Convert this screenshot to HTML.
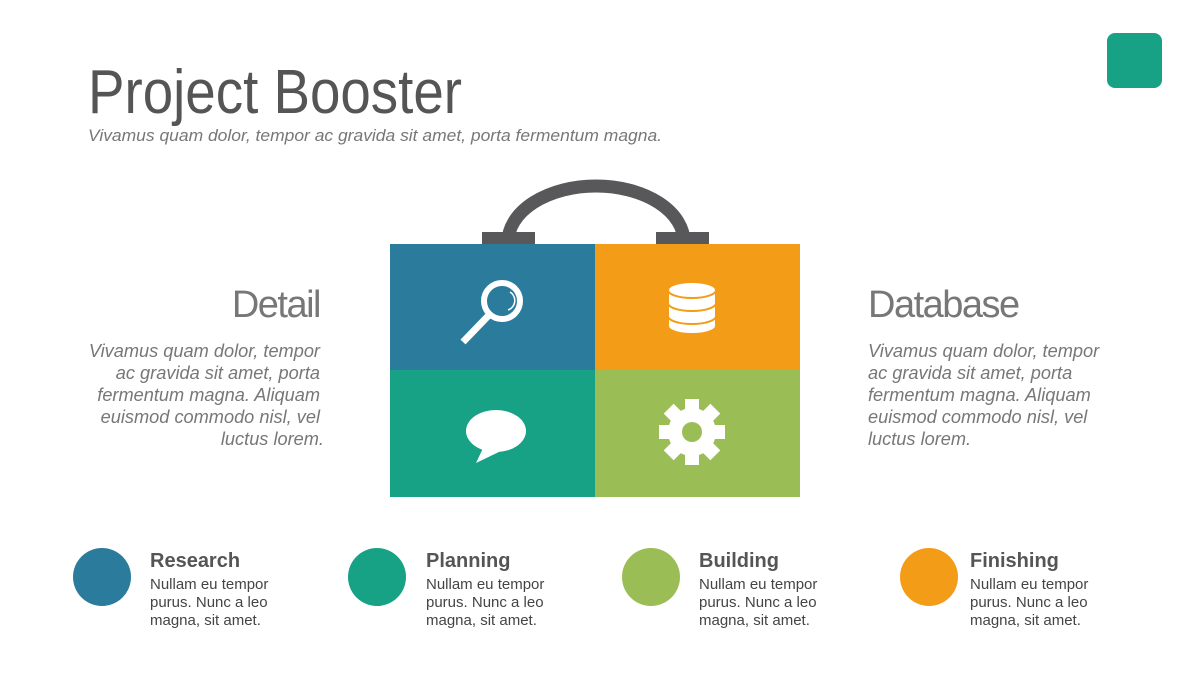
<!DOCTYPE html>
<html><head><meta charset="utf-8"><style>
html,body{margin:0;padding:0;background:#fff;}
svg{display:block;}
text{font-family:"Liberation Sans",sans-serif;}
</style></head><body>
<svg width="1200" height="680" viewBox="0 0 1200 680" xmlns="http://www.w3.org/2000/svg">
<rect x="1107" y="33" width="55" height="55" rx="8" fill="#17a185"/>
<text x="88" y="113" font-size="62" fill="#555" textLength="374" lengthAdjust="spacingAndGlyphs">Project Booster</text>
<text x="88" y="141" font-size="17" font-style="italic" fill="#777" textLength="574" lengthAdjust="spacingAndGlyphs">Vivamus quam dolor, tempor ac gravida sit amet, porta fermentum magna.</text>

<!-- handle -->
<path d="M508 242 A88 56 0 0 1 684 242" fill="none" stroke="#58585a" stroke-width="13"/>
<rect x="482" y="232" width="53" height="13" fill="#58585a"/>
<rect x="656" y="232" width="53" height="13" fill="#58585a"/>
<!-- box -->
<rect x="390" y="244" width="205" height="126" fill="#2a7b9c"/>
<rect x="595" y="244" width="205" height="126" fill="#f39c18"/>
<rect x="390" y="370" width="205" height="127" fill="#17a185"/>
<rect x="595" y="370" width="205" height="127" fill="#9bbd55"/>
<!-- magnifier -->
<circle cx="502" cy="301" r="18" fill="none" stroke="#fff" stroke-width="6"/>
<path d="M510 292 A10 10 0 0 1 508 310" fill="none" stroke="#fff" stroke-width="1.5"/>
<line x1="490" y1="314" x2="463" y2="342" stroke="#fff" stroke-width="7"/>
<!-- database -->
<g fill="#fff" stroke="#f39c18" stroke-width="2">
<path d="M668 316 v10 a24 8 0 0 0 48 0 v-10"/>
<path d="M668 303 v13 a24 8 0 0 0 48 0 v-13"/>
<path d="M668 290 v13 a24 8 0 0 0 48 0 v-13"/>
<ellipse cx="692" cy="290" rx="24" ry="8"/>
</g>
<!-- speech bubble -->
<ellipse cx="496" cy="431" rx="30" ry="21" fill="#fff"/>
<path d="M484 446 L476 463 L503 450 Z" fill="#fff"/>
<!-- gear -->
<g transform="translate(692,432)" fill="#fff">
<circle r="24"/>
<rect x="-7" y="-33" width="14" height="14"/>
<rect x="-7" y="-33" width="14" height="14" transform="rotate(45)"/>
<rect x="-7" y="-33" width="14" height="14" transform="rotate(90)"/>
<rect x="-7" y="-33" width="14" height="14" transform="rotate(135)"/>
<rect x="-7" y="-33" width="14" height="14" transform="rotate(180)"/>
<rect x="-7" y="-33" width="14" height="14" transform="rotate(225)"/>
<rect x="-7" y="-33" width="14" height="14" transform="rotate(270)"/>
<rect x="-7" y="-33" width="14" height="14" transform="rotate(315)"/>
<circle r="10" fill="#9bbd55"/>
</g>

<!-- Detail -->
<text x="320" y="317" font-size="38" fill="#777" text-anchor="end" letter-spacing="-1.5">Detail</text>
<g font-size="18.2" font-style="italic" fill="#777" text-anchor="end">
<text x="320" y="357">Vivamus quam dolor, tempor</text>
<text x="320" y="379">ac gravida sit amet, porta</text>
<text x="320" y="401">fermentum magna. Aliquam</text>
<text x="320" y="423">euismod commodo nisl, vel</text>
<text x="324" y="445">luctus lorem.</text>
</g>
<!-- Database -->
<text x="868" y="317" font-size="38" fill="#777" letter-spacing="-1.5">Database</text>
<g font-size="18.2" font-style="italic" fill="#777">
<text x="868" y="357">Vivamus quam dolor, tempor</text>
<text x="868" y="379">ac gravida sit amet, porta</text>
<text x="868" y="401">fermentum magna. Aliquam</text>
<text x="868" y="423">euismod commodo nisl, vel</text>
<text x="868" y="445">luctus lorem.</text>
</g>

<!-- bottom -->
<circle cx="102" cy="577" r="29" fill="#2a7b9c"/>
<circle cx="377" cy="577" r="29" fill="#17a185"/>
<circle cx="651" cy="577" r="29" fill="#9bbd55"/>
<circle cx="929" cy="577" r="29" fill="#f39c18"/>
<g font-size="20" font-weight="bold" fill="#555">
<text x="150" y="567">Research</text>
<text x="426" y="567">Planning</text>
<text x="699" y="567">Building</text>
<text x="970" y="567">Finishing</text>
</g>
<g font-size="15" fill="#444">
<text x="150" y="589">Nullam eu tempor</text><text x="150" y="607">purus. Nunc a leo</text><text x="150" y="625">magna, sit amet.</text>
<text x="426" y="589">Nullam eu tempor</text><text x="426" y="607">purus. Nunc a leo</text><text x="426" y="625">magna, sit amet.</text>
<text x="699" y="589">Nullam eu tempor</text><text x="699" y="607">purus. Nunc a leo</text><text x="699" y="625">magna, sit amet.</text>
<text x="970" y="589">Nullam eu tempor</text><text x="970" y="607">purus. Nunc a leo</text><text x="970" y="625">magna, sit amet.</text>
</g>
</svg>
</body></html>
